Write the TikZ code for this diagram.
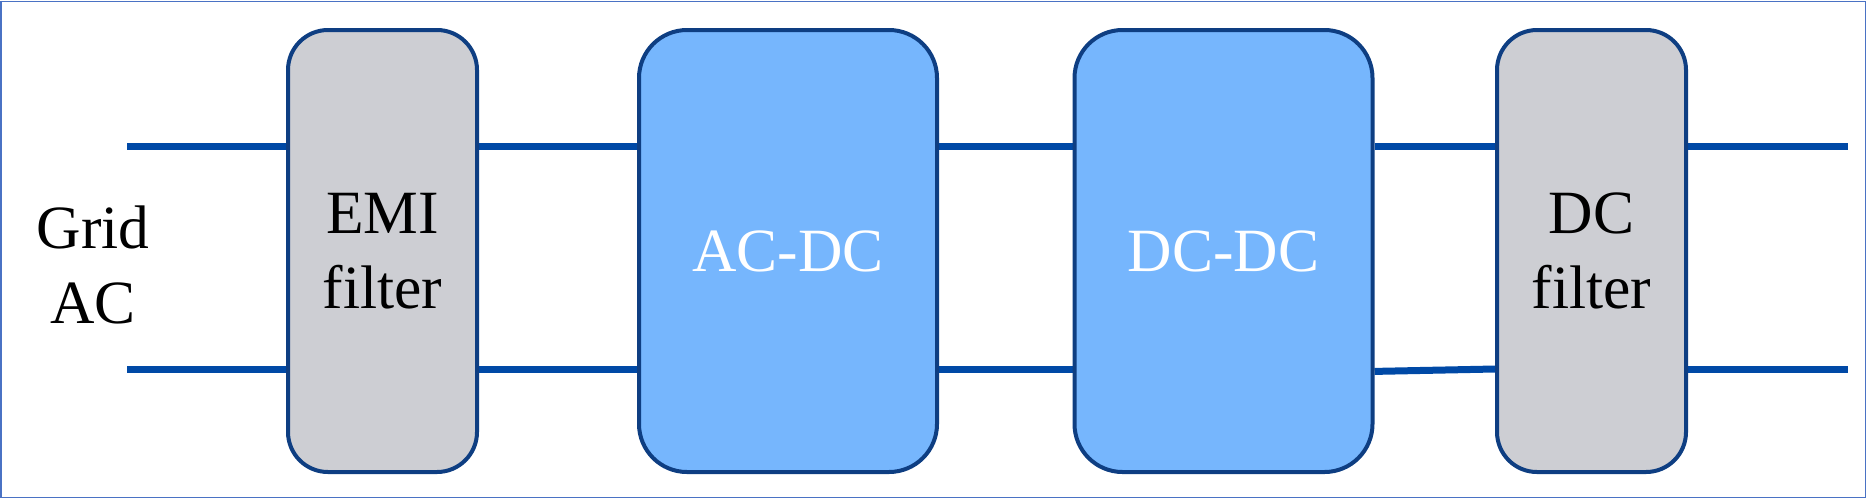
\documentclass[tikz,border=0pt]{standalone}
\usepackage{fontspec}
\setmainfont{Liberation Serif}
\usepackage{xcolor}
\usetikzlibrary{positioning, backgrounds}

\definecolor{wirecol}{HTML}{0049A6}
\definecolor{edgecol}{HTML}{0E3E82}
\definecolor{filtgray}{HTML}{CDCED3}
\definecolor{convblue}{HTML}{76B6FD}
\definecolor{framecol}{HTML}{4A72C4}

\begin{document}
\begin{tikzpicture}[x=0.5pt, y=-0.5pt,
  font=\fontsize{30.75}{37.5}\selectfont,
  block/.style={draw=edgecol, line width=2pt, minimum height=221pt, align=center, inner sep=0pt},
  filt/.style={block, fill=filtgray, rounded corners=20pt, minimum width=94.5pt},
  conv/.style={block, fill=convblue, text=white, rounded corners=24pt, minimum width=149pt},
  wire/.style={draw=wirecol, line width=3.5pt}]
  \useasboundingbox (0,0) rectangle (1867,499);
  \draw[framecol, line width=0.75pt] (1,1.5) rectangle (1865.5,497.5);
  % ---- source ----
  \node[align=center] (grid) at (93,265) {Grid\\AC};
  % ---- stages ----
  \node[filt] (emi)  at (382.5,251)  {EMI\\filter};
  \node[conv] (acdc) at (788,251)    {AC-DC};
  \node[conv] (dcdc) at (1223.5,251) {DC-DC};
  \node[filt] (dcf)  at (1591.5,251) {DC\\filter};
  % ---- wires ----
  \coordinate (inT)  at (127,146);
  \coordinate (inB)  at (127,369);
  \coordinate (outT) at (1848,146);
  \coordinate (outB) at (1848,369);
  \begin{scope}[on background layer]
    \draw[wire] (inT) -- (inT -| emi.west);
    \draw[wire] (inB) -- (inB -| emi.west);
    \draw[wire] (inT -| emi.east) -- (inT -| acdc.west);
    \draw[wire] (inB -| emi.east) -- (inB -| acdc.west);
    \draw[wire] (inT -| acdc.east) -- (inT -| dcdc.west);
    \draw[wire] (inB -| acdc.east) -- (inB -| dcdc.west);
    \draw[wire] (inT -| dcdc.east) -- (inT -| dcf.west);
    \draw[wire] ([yshift=-1.2pt]inB -| dcdc.east) -- (inB -| dcf.west);
    \draw[wire] (inT -| dcf.east) -- (outT);
    \draw[wire] (inB -| dcf.east) -- (outB);
  \end{scope}
\end{tikzpicture}
\end{document}
